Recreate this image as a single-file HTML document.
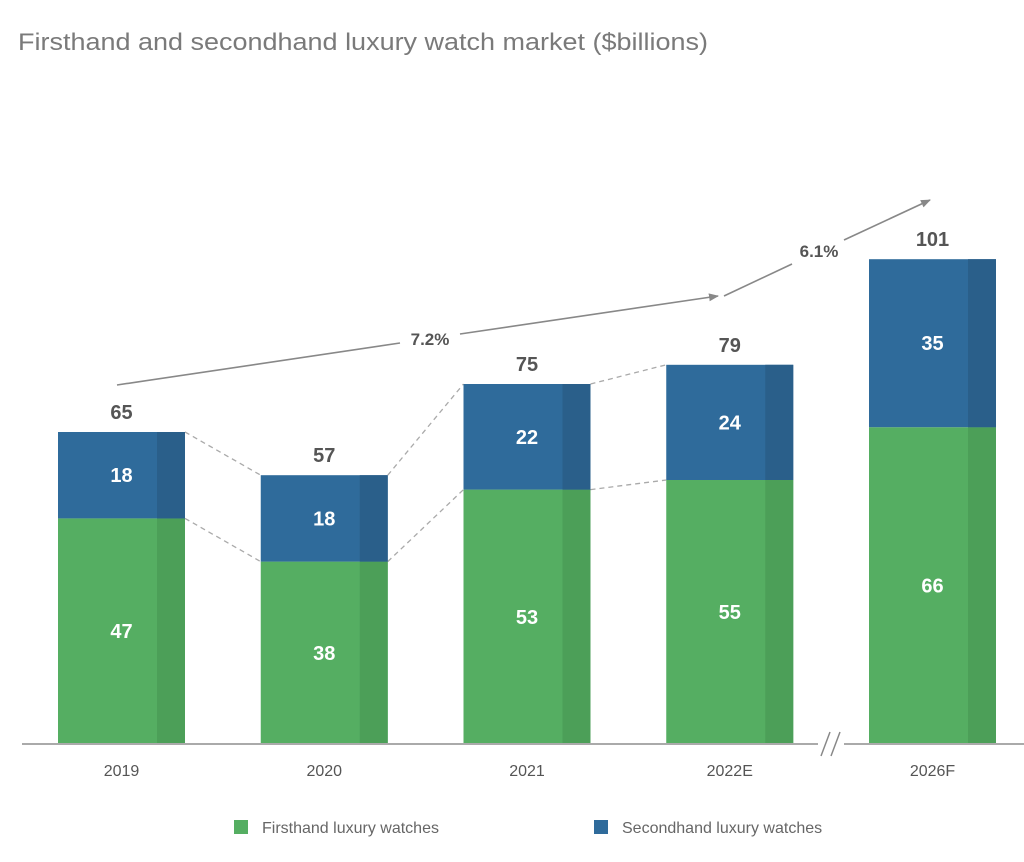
<!DOCTYPE html>
<html><head><meta charset="utf-8"><style>
html,body{margin:0;padding:0;background:#fff;}
svg{display:block;font-family:"Liberation Sans",sans-serif;}
</style></head><body>
<svg id="chart" width="1024" height="862">
<text x="18" y="50" font-size="24" fill="#7a7a7a" textLength="690" lengthAdjust="spacingAndGlyphs">Firsthand and secondhand luxury watch market ($billions)</text>
<defs><marker id="ah" markerWidth="10" markerHeight="8" refX="9" refY="4" orient="auto" markerUnits="userSpaceOnUse"><path d="M0,0 L10,4 L0,8 Z" fill="#888"/></marker></defs>
<g id="conn"></g>
<g id="bars"></g>
<line x1="117" y1="385" x2="400" y2="343" stroke="#888" stroke-width="1.6"/>
<line x1="460" y1="334" x2="718" y2="296" stroke="#888" stroke-width="1.6" marker-end="url(#ah)"/>
<text x="430" y="345" font-size="17" font-weight="bold" fill="#555" text-anchor="middle">7.2%</text>
<line x1="724" y1="296" x2="792" y2="264" stroke="#888" stroke-width="1.6"/>
<line x1="844" y1="240" x2="930" y2="200" stroke="#888" stroke-width="1.6" marker-end="url(#ah)"/>
<text x="819" y="257" font-size="17" font-weight="bold" fill="#555" text-anchor="middle">6.1%</text>
<line x1="22" y1="744" x2="1024" y2="744" stroke="#aaa" stroke-width="2"/>
<g><rect x="818" y="732" width="26" height="24" fill="#fff"/><line x1="821" y1="756" x2="830" y2="732" stroke="#888" stroke-width="1.5"/><line x1="831" y1="756" x2="840" y2="732" stroke="#888" stroke-width="1.5"/></g>
<g id="xlabels"></g>
<rect x="234" y="820" width="14" height="14" fill="#55ae62"/>
<text x="262" y="833" font-size="16" fill="#666">Firsthand luxury watches</text>
<rect x="594" y="820" width="14" height="14" fill="#2f6b9b"/>
<text x="622" y="833" font-size="16" fill="#666">Secondhand luxury watches</text>
</svg>
<script>
const categories = ["2019","2020","2021","2022E","2026F"];
const firsthand = [47,38,53,55,66];
const secondhand = [18,18,22,24,35];
const totals = [65,57,75,79,101];

const NS="http://www.w3.org/2000/svg";
const baseY=744, scale=4.8, barW=127, x0=58, step=202.75, strip=28;
function xPos(i){return x0+i*step;}
function yPos(v){return baseY-v*scale;}
function mk(tag,attrs,parent){const e=document.createElementNS(NS,tag);for(const k in attrs)e.setAttribute(k,attrs[k]);parent.appendChild(e);return e;}
const gB=document.getElementById('bars'), gC=document.getElementById('conn'), gX=document.getElementById('xlabels');
categories.forEach((c,i)=>{
  const x=xPos(i), yS=yPos(firsthand[i]), yT=yPos(firsthand[i]+secondhand[i]);
  const g=mk('g',{},gB);
  
  
  const r1=mk('rect',{x:x,y:yS,width:barW,height:baseY-yS,fill:'#55ae62'},g);
  
  
  mk('rect',{x:x+barW-strip,y:yS,width:strip,height:baseY-yS,fill:'#4c9f58'},g);
  const r2=mk('rect',{x:x,y:yT,width:barW,height:yS-yT,fill:'#2f6b9b'},g);
  
  
  mk('rect',{x:x+barW-strip,y:yT,width:strip,height:yS-yT,fill:'#2a5f8a'},g);
  const cx=x+barW/2;
  const t1=mk('text',{x:cx,y:(yS+baseY)/2+7,'font-size':20,'font-weight':'bold',fill:'#fff','text-anchor':'middle'},g);
  t1.textContent=firsthand[i];
  
  
  const t2=mk('text',{x:cx,y:(yS+yT)/2+7,'font-size':20,'font-weight':'bold',fill:'#fff','text-anchor':'middle'},g);
  t2.textContent=secondhand[i];
  
  
  const t3=mk('text',{x:cx,y:yT-13,'font-size':20,'font-weight':'bold',fill:'#555','text-anchor':'middle'},g);
  t3.textContent=totals[i];
  
  
  const xl=mk('text',{x:cx,y:776,'font-size':16,fill:'#555','text-anchor':'middle'},gX);
  xl.textContent=c;
  
  
  if(i<3){
    const xn=xPos(i+1), yTn=yPos(firsthand[i+1]+secondhand[i+1]), ySn=yPos(firsthand[i+1]);
    const d1=mk('line',{x1:x+barW,y1:yT,x2:xn,y2:yTn,stroke:'#aaa','stroke-width':1.3,'stroke-dasharray':'5,4'},gC);
    
    
    const d2=mk('line',{x1:x+barW,y1:yS,x2:xn,y2:ySn,stroke:'#aaa','stroke-width':1.3,'stroke-dasharray':'5,4'},gC);
    
    
  }
});
</script>
</body></html>
